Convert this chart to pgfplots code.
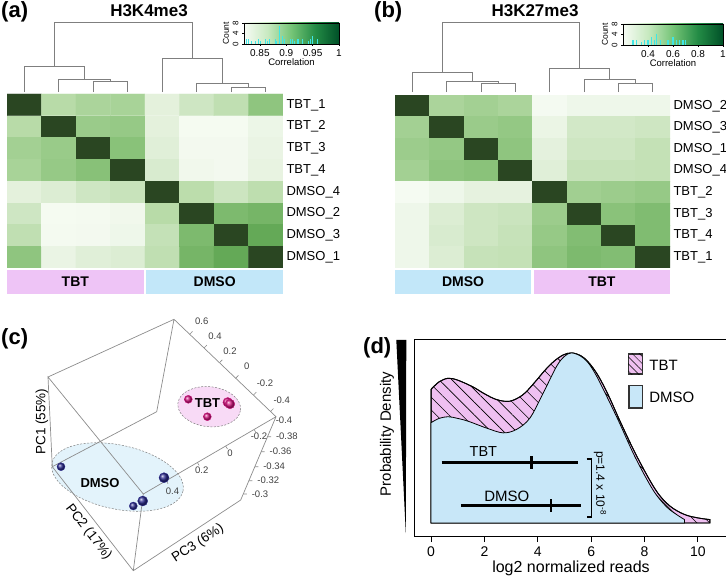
\documentclass[border=0pt]{standalone}
\usepackage{fontspec}
\setmainfont{Liberation Sans}
\usepackage{pgfplots}
\pgfplotsset{compat=1.18}
\usetikzlibrary{patterns.meta,shapes.geometric,plotmarks}
\newcommand{\fs}[1]{\fontsize{#1}{#1}\selectfont}

\definecolor{tbtpink}{HTML}{EEC4F6}
\definecolor{dmsoblue}{HTML}{C2E7F9}
\definecolor{dendro}{HTML}{7F7F7F}
\definecolor{histc}{HTML}{3FE6E6}
\definecolor{dmsodot}{HTML}{2B2A8E}
\definecolor{tbtdot}{HTML}{D2157F}
\definecolor{boxgray}{HTML}{8C8C8C}
\definecolor{densblue}{HTML}{C8E7F8}
\definecolor{denspink}{HTML}{EFC0F1}
\definecolor{ellblue}{HTML}{E3F3FB}
\definecolor{ellpink}{HTML}{F8DAF6}
\definecolor{cb0}{RGB}{247,252,245}
\definecolor{cb1}{RGB}{199,233,192}
\definecolor{cb2}{RGB}{116,196,118}
\definecolor{cb3}{RGB}{35,139,69}
\definecolor{cb4}{RGB}{0,80,40}
\pgfdeclarehorizontalshading{cbshade}{100bp}{color(0bp)=(cb0); color(25bp)=(cb0); color(37.5bp)=(cb1); color(50bp)=(cb2); color(62.5bp)=(cb3); color(75bp)=(cb4); color(100bp)=(cb4)}

\pgfplotsset{
  colormap={hm}{rgb255(0pt)=(247,252,244); rgb255(22pt)=(228,241,221); rgb255(44pt)=(184,219,168); rgb255(61pt)=(140,196,124); rgb255(78pt)=(98,168,85); rgb255(83pt)=(80,140,70); rgb255(100pt)=(42,70,34)},
  /pgf/number format/assume math mode=true,
  heat/.style={scale only axis, anchor=north west, height=174pt,
    xmin=-0.5, xmax=7.5, ymin=-0.5, ymax=7.5, y dir=reverse, enlargelimits=false,
    axis line style={draw=none}, major tick length=0pt, xtick=\empty, ytick={0,...,7},
    yticklabel pos=right, yticklabel style={font=\fs{13}},
    colormap name=hm},
  dend/.style={scale only axis, anchor=north west, height=72pt, xmin=-0.5, xmax=7.5,
    ymin=0, ymax=72, hide axis, clip=false},
  dl/.style={dendro, line width=0.8pt},
  grp/.style={scale only axis, anchor=north west, height=24pt, xmin=-0.5, xmax=7.5,
    ymin=0, ymax=1, hide axis},
  cbar/.style={scale only axis, anchor=north west, height=21pt, ymin=0, ymax=8, ytick={0,4,8},
    axis on top, tick align=outside, xtick pos=left, ytick pos=left, major tick length=2pt,
    tick style={black, line width=0.4pt}, axis line style={line width=0.5pt},
    xticklabel style={font=\fs{10}}, yticklabel style={font=\fs{8}, rotate=90, anchor=south},
    xlabel={Correlation}, xlabel style={font=\fs{9.5}, yshift=5pt},
    ylabel={Count}, ylabel style={font=\fs{8.5}, yshift=-3pt}},
}

\begin{document}
\begin{tikzpicture}[x=1pt,y=1pt]
\useasboundingbox (0,0) rectangle (726,-577);

% ---------------- (a) H3K4me3
\begin{axis}[dend, at={(7pt,-20pt)}, width=276pt]
\addplot[dl] coordinates {(2,0) (2,11) (3,11) (3,0)};
\addplot[dl] coordinates {(1,0) (1,13) (2.5,13) (2.5,11)};
\addplot[dl] coordinates {(0,0) (0,26) (1.75,26) (1.75,13)};
\addplot[dl] coordinates {(6,0) (6,5) (7,5) (7,0)};
\addplot[dl] coordinates {(5,0) (5,9) (6.5,9) (6.5,5)};
\addplot[dl] coordinates {(4,0) (4,34) (5.75,34) (5.75,9)};
\addplot[dl] coordinates {(0.875,26) (0.875,70) (4.875,70) (4.875,34)};
\end{axis}

\begin{axis}[heat, at={(7pt,-94pt)}, width=276pt, point meta min=0.82, point meta max=1,
  yticklabels={TBT\_1,TBT\_2,TBT\_3,TBT\_4,DMSO\_4,DMSO\_2,DMSO\_3,DMSO\_1}]
\addplot[matrix plot*, mesh/cols=8, point meta=explicit] coordinates {
(0,0)[1.000] (1,0)[0.899] (2,0)[0.908] (3,0)[0.910] (4,0)[0.860] (5,0)[0.879] (6,0)[0.892] (7,0)[0.928]
(0,1)[0.899] (1,1)[1.000] (2,1)[0.920] (3,1)[0.923] (4,1)[0.860] (5,1)[0.825] (6,1)[0.825] (7,1)[0.842]
(0,2)[0.914] (1,2)[0.921] (2,2)[1.000] (3,2)[0.932] (4,2)[0.863] (5,2)[0.829] (6,2)[0.829] (7,2)[0.847]
(0,3)[0.910] (1,3)[0.923] (2,3)[0.933] (3,3)[1.000] (4,3)[0.870] (5,3)[0.833] (6,3)[0.829] (7,3)[0.852]
(0,4)[0.860] (1,4)[0.867] (2,4)[0.879] (3,4)[0.885] (4,4)[1.000] (5,4)[0.896] (6,4)[0.881] (7,4)[0.894]
(0,5)[0.879] (1,5)[0.825] (2,5)[0.827] (3,5)[0.833] (4,5)[0.899] (5,5)[1.000] (6,5)[0.941] (7,5)[0.946]
(0,6)[0.892] (1,6)[0.827] (2,6)[0.829] (3,6)[0.838] (4,6)[0.888] (5,6)[0.941] (6,6)[1.000] (7,6)[0.959]
(0,7)[0.928] (1,7)[0.847] (2,7)[0.863] (3,7)[0.867] (4,7)[0.892] (5,7)[0.946] (6,7)[0.959] (7,7)[1.000]
};
\end{axis}

\begin{axis}[grp, at={(7pt,-270pt)}, width=276pt]
\addplot[fill=tbtpink, draw=none] coordinates {(-0.5,1) (3.46,1)} \closedcycle;
\addplot[fill=dmsoblue, draw=none] coordinates {(3.54,1) (7.5,1)} \closedcycle;
\node[font=\bfseries\fs{14}] at (axis cs:1.48,0.5) {TBT};
\node[font=\bfseries\fs{14}] at (axis cs:5.52,0.5) {DMSO};
\end{axis}

\begin{axis}[cbar, at={(244pt,-23pt)}, width=95pt, xmin=0.82, xmax=1,
  xtick={0.85,0.9,0.95,1}, xticklabels={0.85,0.9,0.95,1}]
\shade[shading=cbshade] (axis cs:0.82,0) rectangle (axis cs:1,8);
\addplot[ycomb, histc, line width=1.1pt] coordinates {
(0.825,2) (0.829,2) (0.834,1) (0.842,1) (0.847,2) (0.852,1) (0.860,2) (0.864,1)
(0.868,2) (0.879,2) (0.882,1) (0.888,7) (0.893,3) (0.897,2) (0.908,2) (0.912,2)
(0.916,1) (0.921,2) (0.924,2) (0.931,2) (0.942,1) (0.946,2) (0.950,3) (0.959,2)};
\end{axis}

% ---------------- (b) H3K27me3
\begin{axis}[dend, at={(395pt,-20pt)}, width=275pt]
\addplot[dl] coordinates {(2,0) (2,9) (3,9) (3,0)};
\addplot[dl] coordinates {(1,0) (1,11) (2.5,11) (2.5,9)};
\addplot[dl] coordinates {(0,0) (0,20) (1.75,20) (1.75,11)};
\addplot[dl] coordinates {(6,0) (6,9) (7,9) (7,0)};
\addplot[dl] coordinates {(5,0) (5,13) (6.5,13) (6.5,9)};
\addplot[dl] coordinates {(4,0) (4,24) (5.75,24) (5.75,13)};
\addplot[dl] coordinates {(0.875,20) (0.875,70) (4.875,70) (4.875,24)};
\end{axis}

\begin{axis}[heat, at={(395pt,-95pt)}, width=275pt, height=173pt, point meta min=0.2, point meta max=1,
  yticklabels={DMSO\_2,DMSO\_3,DMSO\_1,DMSO\_4,TBT\_2,TBT\_3,TBT\_4,TBT\_1}]
\addplot[matrix plot*, mesh/cols=8, point meta=explicit] coordinates {
(0,0)[1.000] (1,0)[0.592] (2,0)[0.616] (3,0)[0.592] (4,0)[0.224] (5,0)[0.280] (6,0)[0.280] (7,0)[0.280]
(0,1)[0.616] (1,1)[1.000] (2,1)[0.644] (3,1)[0.664] (4,1)[0.312] (5,1)[0.448] (6,1)[0.448] (7,1)[0.464]
(0,2)[0.640] (1,2)[0.664] (2,2)[1.000] (3,2)[0.680] (4,2)[0.376] (5,2)[0.464] (6,2)[0.464] (7,2)[0.504]
(0,3)[0.616] (1,3)[0.680] (2,3)[0.696] (3,3)[1.000] (4,3)[0.392] (5,3)[0.496] (6,3)[0.496] (7,3)[0.504]
(0,4)[0.216] (1,4)[0.280] (2,4)[0.360] (3,4)[0.360] (4,4)[1.000] (5,4)[0.624] (6,4)[0.640] (7,4)[0.656]
(0,5)[0.280] (1,5)[0.408] (2,5)[0.464] (3,5)[0.480] (4,5)[0.640] (5,5)[1.000] (6,5)[0.696] (7,5)[0.728]
(0,6)[0.280] (1,6)[0.424] (2,6)[0.464] (3,6)[0.496] (4,6)[0.656] (5,6)[0.720] (6,6)[1.000] (7,6)[0.728]
(0,7)[0.280] (1,7)[0.408] (2,7)[0.496] (3,7)[0.504] (4,7)[0.680] (5,7)[0.736] (6,7)[0.720] (7,7)[1.000]
};
\end{axis}

\begin{axis}[grp, at={(395pt,-270pt)}, width=275pt]
\addplot[fill=dmsoblue, draw=none] coordinates {(-0.5,1) (3.46,1)} \closedcycle;
\addplot[fill=tbtpink, draw=none] coordinates {(3.54,1) (7.5,1)} \closedcycle;
\node[font=\bfseries\fs{14}] at (axis cs:1.48,0.5) {DMSO};
\node[font=\bfseries\fs{14}] at (axis cs:5.52,0.5) {TBT};
\end{axis}

\begin{axis}[cbar, at={(623pt,-24pt)}, width=100pt, xmin=0.2, xmax=1,
  xtick={0.4,0.6,0.8,1}, xticklabels={0.4,0.6,0.8,1}]
\shade[shading=cbshade] (axis cs:0.2,0) rectangle (axis cs:1,8);
\addplot[ycomb, histc, line width=1.1pt] coordinates {
(0.28,2) (0.31,2) (0.35,1) (0.37,2) (0.40,2) (0.43,3) (0.45,2) (0.47,4) (0.50,2)
(0.56,2) (0.60,3) (0.63,2) (0.65,2) (0.68,2) (0.70,2)};
\end{axis}

% ---------------- (c) PCA, box drawn in its projected plane
\begin{axis}[scale only axis, anchor=north west, at={(0pt,-300pt)}, width=300pt, height=277pt,
  xmin=0, xmax=300, ymin=300, ymax=577, y dir=reverse, hide axis, clip=false]
\node[ellipse, draw=gray, dash pattern=on 2pt off 1.5pt, line width=0.5pt, fill=ellblue,
  minimum width=134pt, minimum height=64pt, rotate=-12, inner sep=0pt] at (axis cs:117.5,477) {};
\node[ellipse, draw=gray, dash pattern=on 2pt off 1.5pt, line width=0.5pt, fill=ellpink,
  minimum width=63pt, minimum height=40pt, rotate=-6, inner sep=0pt] at (axis cs:209.2,406.7) {};
\addplot[boxgray, line width=0.7pt, unbounded coords=jump] coordinates {
(48,377) (174,319.3) (276,416.7) (240.7,500) (133.3,570.7) (52.3,466.7) (48,377) (143.3,494) (276,416.7)
(nan,nan) (174,319.3) (156.7,411.7) (52.3,466.7)
(nan,nan) (143.3,494) (133.3,570.7)};
% tick marks
\addplot[boxgray, line width=0.6pt, unbounded coords=jump] coordinates {
(189.7,334.3) (192.5,331.4) (nan,nan) (204,348) (206.8,345.1) (nan,nan)
(219.5,362.7) (222.3,359.8) (nan,nan) (235.7,378.2) (238.5,375.3) (nan,nan)
(253.5,395) (256.3,392.1) (nan,nan) (270.6,411.5) (273.4,408.6) (nan,nan)
(267.5,436.7) (271,436.7) (nan,nan) (261.2,451.7) (264.7,451.7) (nan,nan)
(254.8,466.7) (258.3,466.7) (nan,nan) (248.9,480.7) (252.4,480.7) (nan,nan)
(243.3,494) (246.8,494) (nan,nan)
(166.2,480.7) (168,483.7) (nan,nan) (197.4,462.5) (199.2,465.5) (nan,nan)
(225.7,446) (227.5,449) (nan,nan) (254.1,429.5) (255.9,432.5)};
\addplot[only marks, mark=ball, mark size=4pt, color=dmsodot, mark options={ball color=dmsodot}]
  coordinates {(61,466.7) (133.3,506)};
\addplot[only marks, mark=ball, mark size=5pt, color=dmsodot, mark options={ball color=dmsodot}]
  coordinates {(164,477.7) (142.7,501)};
\addplot[only marks, mark=ball, mark size=4pt, color=tbtdot, mark options={ball color=tbtdot}]
  coordinates {(188.3,399.3) (207.3,416.7)};
\addplot[only marks, mark=ball, mark size=4.8pt, color=tbtdot, mark options={ball color=tbtdot}]
  coordinates {(227.7,402.3) (230,404)};
\node[font=\bfseries\fs{13}] at (axis cs:207.5,402.7) {TBT};
\node[font=\bfseries\fs{13}] at (axis cs:100,482.7) {DMSO};
\begin{scope}[every node/.style={font=\fs{9.5}, text=black!75}]
\node at (axis cs:201.7,321.7) {0.6};
\node at (axis cs:215,336.7) {0.4};
\node at (axis cs:230,351.7) {0.2};
\node at (axis cs:246.7,366.7) {0};
\node at (axis cs:265,383.3) {-0.2};
\node at (axis cs:281.7,400) {-0.4};
\node at (axis cs:172.5,491) {0.4};
\node at (axis cs:201.7,470) {0.2};
\node at (axis cs:230,453.3) {0};
\node at (axis cs:259,436.7) {-0.2};
\node at (axis cs:284,420.7) {-0.4};
\node[anchor=west] at (axis cs:272.5,436.7) {-0.38};
\node[anchor=west] at (axis cs:266.2,451.7) {-0.36};
\node[anchor=west] at (axis cs:259.8,466.7) {-0.34};
\node[anchor=west] at (axis cs:253.9,480.7) {-0.32};
\node[anchor=west] at (axis cs:248.3,494) {-0.3};
\end{scope}
\node[font=\fs{13.5}, rotate=90] at (axis cs:42,421.7) {PC1 (55\%)};
\node[font=\fs{13.5}, rotate=-52] at (axis cs:88.5,532) {PC2 (17\%)};
\node[font=\fs{13.5}, rotate=33] at (axis cs:198,543.5) {PC3 (6\%)};
\end{axis}

% ---------------- (d) density
\begin{axis}[scale only axis, anchor=north west, at={(414pt,-339pt)}, width=314pt, height=197pt,
  xmin=-0.64, xmax=11.13, ymin=-0.0765, ymax=1.082, clip=false,
  xtick={0,2,4,6,8,10}, ytick=\empty, xtick pos=left, tick align=outside, major tick length=6pt,
  axis line style={line width=1pt}, tick style={black, line width=0.9pt},
  xticklabel style={font=\fs{14}, yshift=-1pt}, xlabel={log2 normalized reads},
  xlabel style={font=\fs{16}, yshift=2pt}]
\addplot[fill=denspink, draw=black, line width=0.9pt, smooth, tension=0.55,
  postaction={pattern={Lines[angle=-45,distance=9pt,line width=0.6pt]}}] coordinates {
(0,0.786) (0.3,0.83) (0.64,0.851) (1.0,0.84) (1.57,0.80) (2.0,0.76) (2.45,0.726) (2.95,0.716)
(3.45,0.755) (3.9,0.83) (4.25,0.895) (4.6,0.95) (4.95,0.988) (5.26,1.0) (5.6,0.985) (5.9,0.945)
(6.25,0.87) (6.65,0.75) (7.12,0.586) (7.72,0.39) (8.42,0.194) (8.95,0.10) (9.5,0.05) (10.0,0.03)
(10.45,0.02)} \closedcycle;
\addplot[fill=densblue, draw=black, line width=0.8pt, smooth, tension=0.55] coordinates {
(0,0.59) (0.3,0.615) (0.64,0.625) (1.0,0.615) (1.4,0.598) (2.1,0.557) (2.7,0.53) (3.2,0.55)
(3.7,0.616) (4.2,0.763) (4.7,0.92) (5.0,0.98) (5.26,1.0) (5.6,0.982) (5.9,0.94) (6.2,0.865)
(6.6,0.74) (7.07,0.586) (7.64,0.39) (8.32,0.194) (8.82,0.096) (9.2,0.05) (9.5,0.02)} \closedcycle;
% ranges and medians
\addplot[black, line width=2.7pt] coordinates {(0.40,0.356) (5.49,0.356)};
\addplot[black, line width=2.7pt] coordinates {(3.77,0.318) (3.77,0.394)};
\addplot[black, line width=2.7pt] coordinates {(1.12,0.102) (5.61,0.102)};
\addplot[black, line width=2.7pt] coordinates {(4.50,0.064) (4.50,0.140)};
\draw[line width=1.6pt] (axis cs:5.83,0.376) -- (axis cs:6.02,0.376) -- (axis cs:6.02,0.035) -- (axis cs:5.83,0.035);
\node[font=\fs{14.5}] at (axis cs:1.96,0.419) {TBT};
\node[font=\fs{15}] at (axis cs:2.84,0.155) {DMSO};
% legend
\draw[line width=1.1pt, draw=black!80, fill=denspink,
  postaction={pattern={Lines[angle=-45,distance=5pt,line width=0.5pt]}}]
  (axis cs:7.39,0.876) rectangle (axis cs:7.91,0.994);
\draw[line width=1.1pt, draw=black!80, fill=densblue] (axis cs:7.42,0.676) rectangle (axis cs:7.91,0.806);
\node[font=\fs{15}, anchor=west] at (axis cs:8.05,0.93) {TBT};
\node[font=\fs{15}, anchor=west] at (axis cs:8.05,0.741) {DMSO};
\end{axis}

\node[rotate=-90, font=\fs{12}] at (600,-483.3) {p=1.4 x 10\textsuperscript{-8}};
\fill (396.3,-340) -- (406.3,-340) -- (405.8,-533) -- cycle;
\node[rotate=90, font=\fs{15}] at (387,-434) {Probability Density};

% panel letters and titles
\node[font=\bfseries\fs{22}, anchor=north west, inner sep=0pt] at (1,-1) {(a)};
\node[font=\bfseries\fs{22}, anchor=north west, inner sep=0pt] at (374,-1) {(b)};
\node[font=\bfseries\fs{22}, anchor=north west, inner sep=0pt] at (1,-328) {(c)};
\node[font=\bfseries\fs{22}, anchor=north west, inner sep=0pt] at (363,-337) {(d)};
\node[font=\bfseries\fs{17}] at (149,-11) {H3K4me3};
\node[font=\bfseries\fs{17}] at (535,-11) {H3K27me3};
\end{tikzpicture}
\end{document}
